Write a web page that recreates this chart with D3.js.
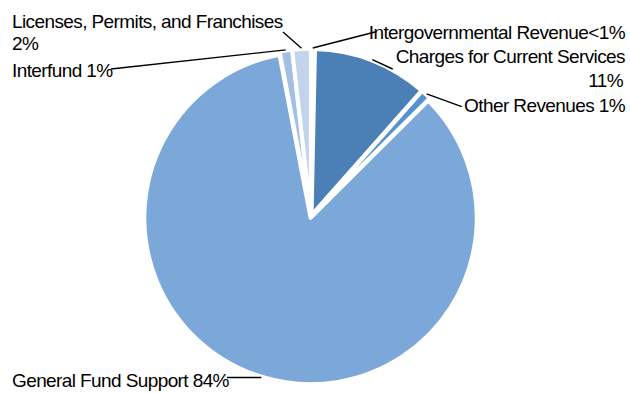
<!DOCTYPE html>
<html>
<head>
<meta charset="utf-8">
<script src="https://cdn.jsdelivr.net/npm/d3@7/dist/d3.min.js"></script>
<style>
  html, body { margin: 0; padding: 0; background: #fff; }
  svg { display: block; }
  text { font-family: "Liberation Sans", Arial, sans-serif; font-size: 19px; letter-spacing: -0.6px; fill: #000; }
</style>
</head>
<body>
<svg id="chart" width="630" height="393"></svg>
<script>
// ---- data ----
const categories = [
  "Intergovernmental Revenue",
  "Charges for Current Services",
  "Other Revenues",
  "General Fund Support",
  "Interfund",
  "Licenses, Permits, and Franchises"
];
const shares = [0.33, 11.2, 1.0, 84.5, 1.2, 1.8];
const shareLabels = ["<1%", "11%", "1%", "84%", "1%", "2%"];

// ---- styles / layout (not data) ----
const colors = ["#dbe6f4", "#4a80b5", "#5393d0", "#7ba8d9", "#a3c0e4", "#c2d4ec"];
const W = 630, H = 393;
const cx = 311, cy = 216.5, R = 166.2, explode = 1.5;

// label layout: lines of text, anchor, and where the leader line ends
const labelLayout = [
  { lines: [{ t: categories[0] + shareLabels[0], x: 625, y: 39 }], anchor: "end", end: [375, 32] },
  { lines: [{ t: categories[1], x: 625, y: 63 }, { t: shareLabels[1], x: 623, y: 87 }], anchor: "end", end: [392.7, 69] },
  { lines: [{ t: categories[2] + " " + shareLabels[2], x: 625, y: 112 }], anchor: "end", end: [461.7, 106.7] },
  { lines: [{ t: categories[3] + " " + shareLabels[3], x: 12, y: 386.5 }], anchor: "start", end: [227, null] },
  { lines: [{ t: categories[4] + " " + shareLabels[4], x: 12, y: 77 }], anchor: "start", end: [111, 69] },
  { lines: [{ t: categories[5], x: 12, y: 28 }, { t: shareLabels[5], x: 12, y: 50 }], anchor: "start", end: [283, 32] }
];

const svg = d3.select("#chart");

const pie = d3.pie().sort(null).value(d => d).startAngle(0).endAngle(2 * Math.PI);
const arcs = pie(shares);
const arc = d3.arc().innerRadius(0).outerRadius(R);

const g = svg.append("g").attr("transform", `translate(${cx},${cy})`);

g.selectAll("path.slice")
  .data(arcs)
  .join("path")
  .attr("class", "slice")
  .attr("d", arc)
  .attr("transform", d => {
    const a = (d.startAngle + d.endAngle) / 2;
    return `translate(${explode * Math.sin(a)},${-explode * Math.cos(a)})`;
  })
  .attr("fill", (d, i) => colors[i])
  .attr("stroke", "#fff")
  .attr("stroke-width", 4)
  .attr("stroke-linejoin", "round");

// leader lines
const leaderR = R + 0.8;
arcs.forEach((d, i) => {
  const a = (d.startAngle + d.endAngle) / 2;
  const sx = cx + (leaderR + explode) * Math.sin(a);
  const sy = cy - (leaderR + explode) * Math.cos(a);
  const L = labelLayout[i];
  const ex = L.end[0];
  const ey = L.end[1] === null ? sy : L.end[1];
  svg.append("line")
    .attr("x1", sx).attr("y1", sy)
    .attr("x2", ex).attr("y2", ey)
    .attr("stroke", "#000")
    .attr("stroke-width", 1.4);
});

// labels
labelLayout.forEach(L => {
  L.lines.forEach(ln => {
    svg.append("text")
      .attr("x", ln.x)
      .attr("y", ln.y)
      .attr("text-anchor", L.anchor)
      .text(ln.t);
  });
});
</script>
</body>
</html>
